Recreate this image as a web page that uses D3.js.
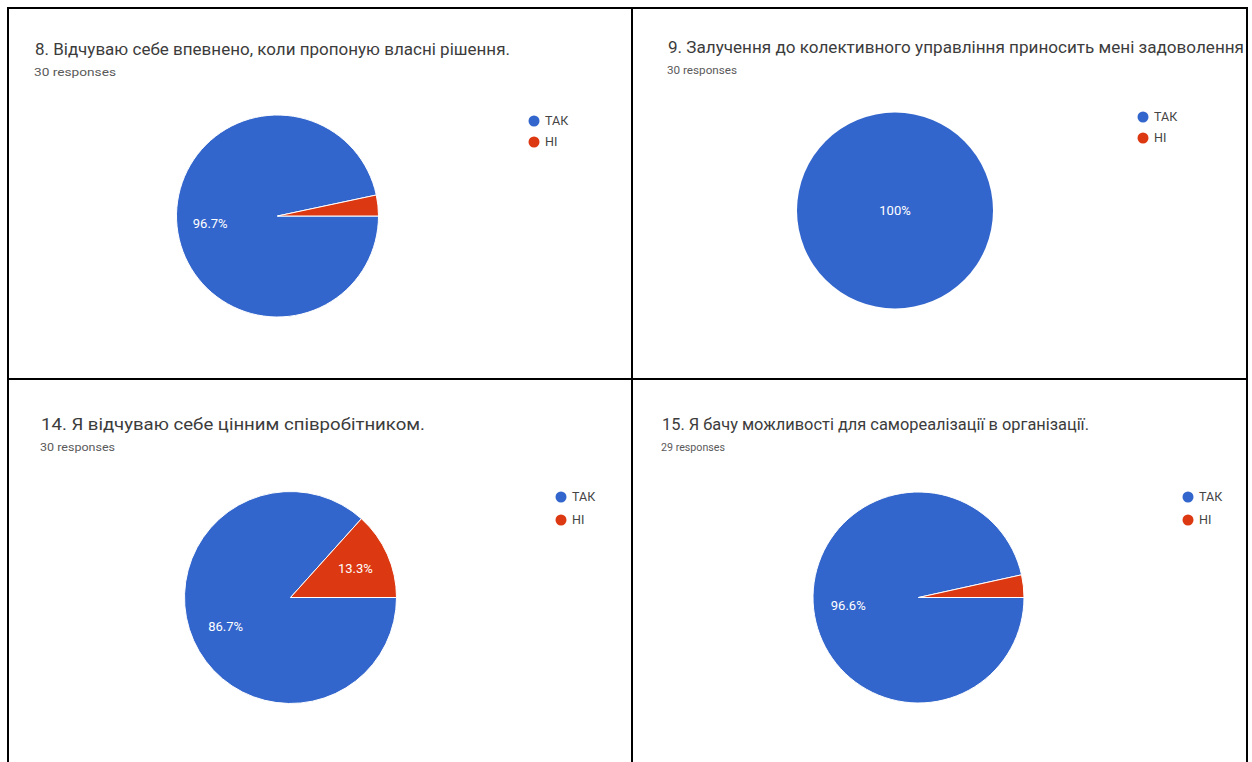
<!DOCTYPE html>
<html>
<head>
<meta charset="utf-8">
<script src="https://cdn.jsdelivr.net/npm/d3@7"></script>
<style>
  html, body { margin: 0; padding: 0; background: #fff; }
  svg { display: block; font-family: Roboto, "Noto Sans", Arial, sans-serif; }
</style>
</head>
<body>
<svg id="chart" width="1252" height="762"></svg>
<script>
// Survey answers, one entry per question
const questions = [
  "8. Відчуваю себе впевнено, коли пропоную власні рішення.",
  "9. Залучення до колективного управління приносить мені задоволення",
  "14. Я відчуваю себе цінним співробітником.",
  "15. Я бачу можливості для самореалізації в організації."
];
const categories = ["ТАК", "НІ"];
const yesCounts = [29, 30, 26, 28];
const noCounts = [1, 0, 4, 1];
const colors = ["#3366cc", "#dc3912"];

// Placement of each question block on the page
const layout = [
  { tx: 35,  tw: 475, ty: 55,  rw: 82, ry: 76,  cx: 277.5, cy: 216,   r: 101,   lx: 534,  ly: 121, lgap: 21 },
  { tx: 668, tw: 576, ty: 53,  rw: 70, ry: 74,  cx: 895,   cy: 210.5, r: 98,    lx: 1143, ly: 117, lgap: 21 },
  { tx: 41,  tw: 384, ty: 430, rw: 75, ry: 451, cx: 290.5, cy: 597.5, r: 106,   lx: 561,  ly: 497, lgap: 23 },
  { tx: 662, tw: 427, ty: 430, rw: 64, ry: 451, cx: 918.5, cy: 597.5, r: 105.5, lx: 1188, ly: 497, lgap: 23 }
];

const svg = d3.select("#chart");
const color = d3.scaleOrdinal().domain(categories).range(colors);

// Slices start at 3 o'clock and run clockwise
const pie = d3.pie()
  .sort(null)
  .value(d => d.value)
  .startAngle(Math.PI / 2)
  .endAngle(Math.PI / 2 + 2 * Math.PI);

questions.forEach((q, i) => {
  const L = layout[i];
  const g = svg.append("g");
  const data = categories.map((c, k) => ({ key: c, value: k === 0 ? yesCounts[i] : noCounts[i] }));
  const total = d3.sum(data, d => d.value);

  g.append("text")
    .attr("x", L.tx).attr("y", L.ty)
    .attr("font-size", 16.5).attr("fill", "#3c3c3c")
    .attr("textLength", L.tw).attr("lengthAdjust", "spacingAndGlyphs")
    .text(q);

  g.append("text")
    .attr("x", L.tx - 1).attr("y", L.ry)
    .attr("font-size", 11).attr("fill", "#5a5a5a")
    .attr("textLength", L.rw).attr("lengthAdjust", "spacingAndGlyphs")
    .text(total + " responses");

  const arc = d3.arc().innerRadius(0).outerRadius(L.r);
  const labelArc = d3.arc().innerRadius(L.r * 0.67).outerRadius(L.r * 0.67);
  const arcs = pie(data.filter(d => d.value > 0));

  const pg = g.append("g").attr("transform", `translate(${L.cx},${L.cy})`);
  pg.selectAll("path")
    .data(arcs)
    .join("path")
    .attr("d", arc)
    .attr("fill", d => color(d.data.key))
    .attr("stroke", arcs.length > 1 ? "#fff" : "none")
    .attr("stroke-width", 1);

  const fmt = v => {
    const p = v / total * 100;
    return (Math.round(p * 10) / 10).toString().replace(/\.0$/, "") + "%";
  };

  pg.selectAll("text.pct")
    .data(arcs.filter(d => d.data.value / total >= 0.05))
    .join("text")
    .attr("class", "pct")
    .attr("transform", d => arcs.length === 1 ? "translate(0,0)" : `translate(${labelArc.centroid(d)})`)
    .attr("text-anchor", "middle")
    .attr("dy", "0.35em")
    .attr("font-size", 13)
    .attr("fill", "#fff")
    .text(d => fmt(d.data.value));

  const lg = g.append("g").attr("transform", `translate(${L.lx},${L.ly})`);
  categories.forEach((c, k) => {
    lg.append("circle").attr("cx", 0).attr("cy", k * L.lgap).attr("r", 5.5).attr("fill", color(c));
    lg.append("text").attr("x", 11).attr("y", k * L.lgap).attr("dy", "0.35em")
      .attr("font-size", 12.5).attr("fill", "#444").text(c);
  });
});

// Table grid around the four blocks
const grid = [
  [[7, 8], [1248, 8]],
  [[8, 8], [8, 762]],
  [[632, 8], [632, 762]],
  [[7, 379], [1248, 379]],
  [[1247, 8], [1247, 762]]
];
svg.append("g").selectAll("path")
  .data(grid)
  .join("path")
  .attr("d", d => d3.line()(d))
  .attr("stroke", "#000")
  .attr("stroke-width", 2)
  .attr("fill", "none");
</script>
</body>
</html>
